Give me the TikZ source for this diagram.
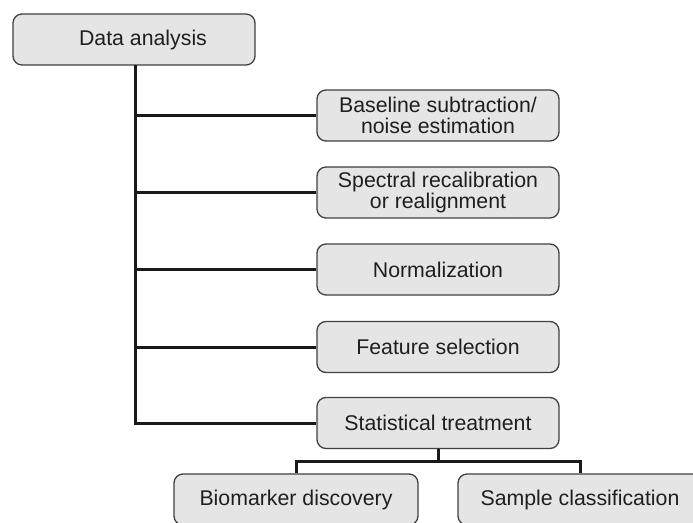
\documentclass[tikz,border=0pt]{standalone}
\usepackage{fontspec}
\setmainfont{Liberation Sans}
\begin{document}
\begin{tikzpicture}[x=1pt,y=-1pt,
  box/.style={draw=black!75, line width=1.3pt, fill=black!10, rounded corners=9pt,
    minimum width=242pt, minimum height=51pt, inner sep=0pt, align=center,
    text=black!88, font=\fontsize{21.3pt}{21pt}\selectfont},
  conn/.style={line width=3pt, black!90}]
\clip (0,0) rectangle (693,522);
\fill[white] (0,0) rectangle (693,522);
\node[box] (da) at (134,39.5) {\hspace*{18pt}Data analysis};
\node[box] (bs) at (438,115.5) {Baseline subtraction/\\noise estimation};
\node[box] (sr) at (438,192.5) {Spectral recalibration\\or realignment};
\node[box] (no) at (438,269.5) {Normalization};
\node[box] (fs) at (438,347) {Feature selection};
\node[box] (st) at (438,423) {Statistical treatment};
\node[box, minimum width=244pt] (bd) at (296,499.5) {Biomarker discovery};
\node[box, minimum width=244pt] (sc) at (580,499.5) {Sample classification};
\coordinate (t0) at (135,65);
\coordinate (tb) at (135,423);
\coordinate (sm) at (438,461);
\draw[conn] (t0) -- (tb) -- (st.west);
\foreach \n in {bs,sr,no,fs} {\draw[conn] (t0 |- \n.west) -- (\n.west);}
\draw[conn] (st.south) -- (sm);
\draw[conn] (bd.north) -- (bd.north |- sm) -- (sc.north |- sm) -- (sc.north);
\end{tikzpicture}
\end{document}
